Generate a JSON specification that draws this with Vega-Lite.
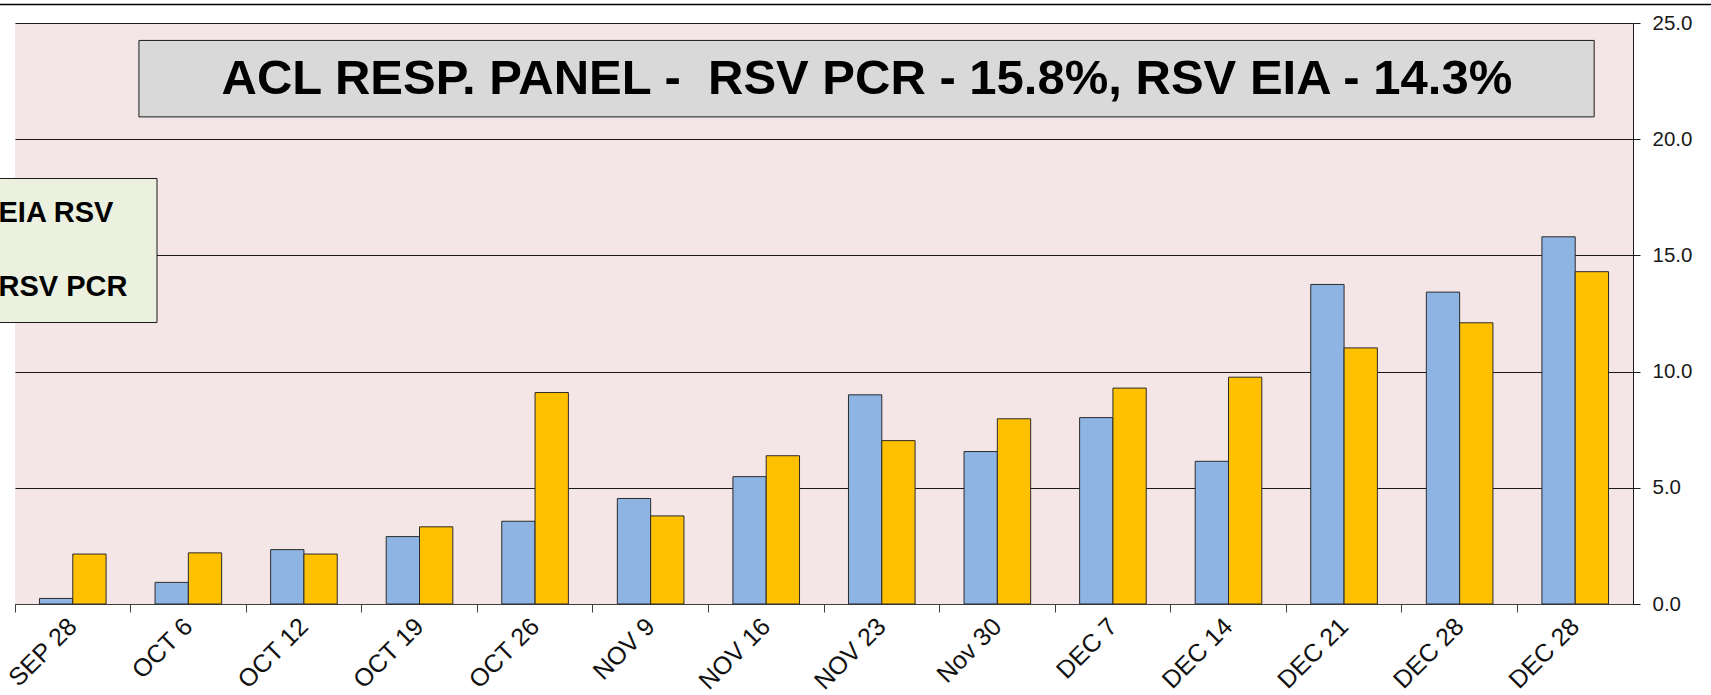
{
  "$schema": "https://vega.github.io/schema/vega-lite/v6.json",
  "width": 1618,
  "height": 581,
  "autosize": {"type": "none"},
  "padding": {"left": 15, "top": 23, "right": 78, "bottom": 91},
  "background": "white",
  "config": {
    "font": "Liberation Sans",
    "view": {"fill": "#F4E6E6", "stroke": null}
  },
  "resolve": {"scale": {"x": "independent"}},
  "layer": [
    {
      "data": {
        "values": [
          {"week": "SEP 28", "series": "RSV PCR", "value": 0.24},
          {"week": "SEP 28", "series": "EIA RSV", "value": 2.15},
          {"week": "OCT 6", "series": "RSV PCR", "value": 0.93},
          {"week": "OCT 6", "series": "EIA RSV", "value": 2.2},
          {"week": "OCT 12", "series": "RSV PCR", "value": 2.34},
          {"week": "OCT 12", "series": "EIA RSV", "value": 2.15},
          {"week": "OCT 19", "series": "RSV PCR", "value": 2.9},
          {"week": "OCT 19", "series": "EIA RSV", "value": 3.32},
          {"week": "OCT 26", "series": "RSV PCR", "value": 3.56},
          {"week": "OCT 26", "series": "EIA RSV", "value": 9.1},
          {"week": "NOV 9", "series": "RSV PCR", "value": 4.54},
          {"week": "NOV 9", "series": "EIA RSV", "value": 3.79},
          {"week": "NOV 16", "series": "RSV PCR", "value": 5.48},
          {"week": "NOV 16", "series": "EIA RSV", "value": 6.38},
          {"week": "NOV 23", "series": "RSV PCR", "value": 9.0},
          {"week": "NOV 23", "series": "EIA RSV", "value": 7.03},
          {"week": "Nov 30", "series": "RSV PCR", "value": 6.56},
          {"week": "Nov 30", "series": "EIA RSV", "value": 7.97},
          {"week": "DEC 7", "series": "RSV PCR", "value": 8.02},
          {"week": "DEC 7", "series": "EIA RSV", "value": 9.29},
          {"week": "DEC 14", "series": "RSV PCR", "value": 6.14},
          {"week": "DEC 14", "series": "EIA RSV", "value": 9.76},
          {"week": "DEC 21", "series": "RSV PCR", "value": 13.75},
          {"week": "DEC 21", "series": "EIA RSV", "value": 11.02},
          {"week": "DEC 28", "series": "RSV PCR", "value": 13.42},
          {"week": "DEC 28", "series": "EIA RSV", "value": 12.1},
          {"week": "DEC 28\u200b", "series": "RSV PCR", "value": 15.8},
          {"week": "DEC 28\u200b", "series": "EIA RSV", "value": 14.3}
        ]
      },
      "mark": {"type": "bar", "stroke": "#2b2b2b", "strokeWidth": 1},
      "encoding": {
        "x": {
          "field": "week",
          "type": "nominal",
          "sort": null,
          "scale": {"paddingInner": 0, "paddingOuter": 0},
          "axis": {
            "title": null,
            "bandPosition": 0,
            "labelOffset": 0,
            "labelAngle": -45,
            "labelAlign": "right",
            "labelBaseline": "middle",
            "labelFontSize": 25,
            "labelColor": "#111111",
            "labelPadding": 10,
            "tickSize": 8,
            "tickColor": "#404040",
            "domainColor": "#404040",
            "grid": false
          }
        },
        "xOffset": {
          "field": "series",
          "type": "nominal",
          "sort": ["RSV PCR", "EIA RSV"],
          "scale": {"paddingOuter": 0.735, "paddingInner": 0}
        },
        "y": {
          "field": "value",
          "type": "quantitative",
          "scale": {"domain": [0, 25], "nice": false},
          "axis": {
            "orient": "right",
            "title": null,
            "values": [0, 5, 10, 15, 20, 25],
            "format": ".1f",
            "grid": true,
            "gridColor": "#1a1a1a",
            "gridOpacity": 1,
            "gridWidth": 1,
            "tickSize": 7,
            "tickColor": "#1a1a1a",
            "domainColor": "#1a1a1a",
            "labelFontSize": 20.5,
            "labelColor": "#1a1a1a",
            "labelPadding": 12,
            "labelFlush": false
          }
        },
        "color": {
          "field": "series",
          "type": "nominal",
          "scale": {"domain": ["EIA RSV", "RSV PCR"], "range": ["#FFC000", "#8DB4E2"]},
          "legend": {
            "orient": "none",
            "legendX": -73.5,
            "legendY": 155,
            "title": "\u00a0",
            "titleOrient": "right",
            "titleFontSize": 4,
            "titlePadding": 9,
            "fillColor": "#EBF1DE",
            "strokeColor": "#1a1a1a",
            "padding": 20,
            "labelFontSize": 29,
            "labelFontWeight": "bold",
            "labelColor": "#000000",
            "labelLimit": 0,
            "symbolType": "square",
            "symbolSize": 100,
            "symbolOpacity": 0,
            "rowPadding": 44.5,
            "labelOffset": 8
          }
        }
      }
    },
    {
      "data": {"values": [{}]},
      "mark": {"type": "rule", "stroke": "#000000", "strokeWidth": 1.5},
      "encoding": {
        "x": {"datum": -0.02, "type": "quantitative", "scale": {"domain": [0, 1]}, "axis": null},
        "x2": {"datum": 1.06},
        "y": {"datum": 25.8, "type": "quantitative", "scale": {"domain": [0, 25], "nice": false}, "title": null}
      }
    },
    {
      "data": {"values": [{}]},
      "mark": {"type": "rect", "fill": "#D9D9D9", "stroke": "#1a1a1a", "strokeWidth": 1},
      "encoding": {
        "x": {"datum": 0.0766, "type": "quantitative", "scale": {"domain": [0, 1]}, "axis": null},
        "x2": {"datum": 0.976},
        "y": {"datum": 24.25, "type": "quantitative", "scale": {"domain": [0, 25], "nice": false}, "title": null},
        "y2": {"datum": 20.96}
      }
    },
    {
      "data": {"values": [{"t": "ACL RESP. PANEL -\u00a0 RSV PCR - 15.8%, RSV EIA - 14.3%"}]},
      "mark": {"type": "text", "fontSize": 49, "fontWeight": "bold", "color": "#000000", "align": "center", "baseline": "middle"},
      "encoding": {
        "x": {"datum": 0.5265, "type": "quantitative", "scale": {"domain": [0, 1]}, "axis": null},
        "y": {"datum": 22.6, "type": "quantitative", "scale": {"domain": [0, 25], "nice": false}, "title": null},
        "text": {"field": "t", "type": "nominal"}
      }
    }
  ]
}
